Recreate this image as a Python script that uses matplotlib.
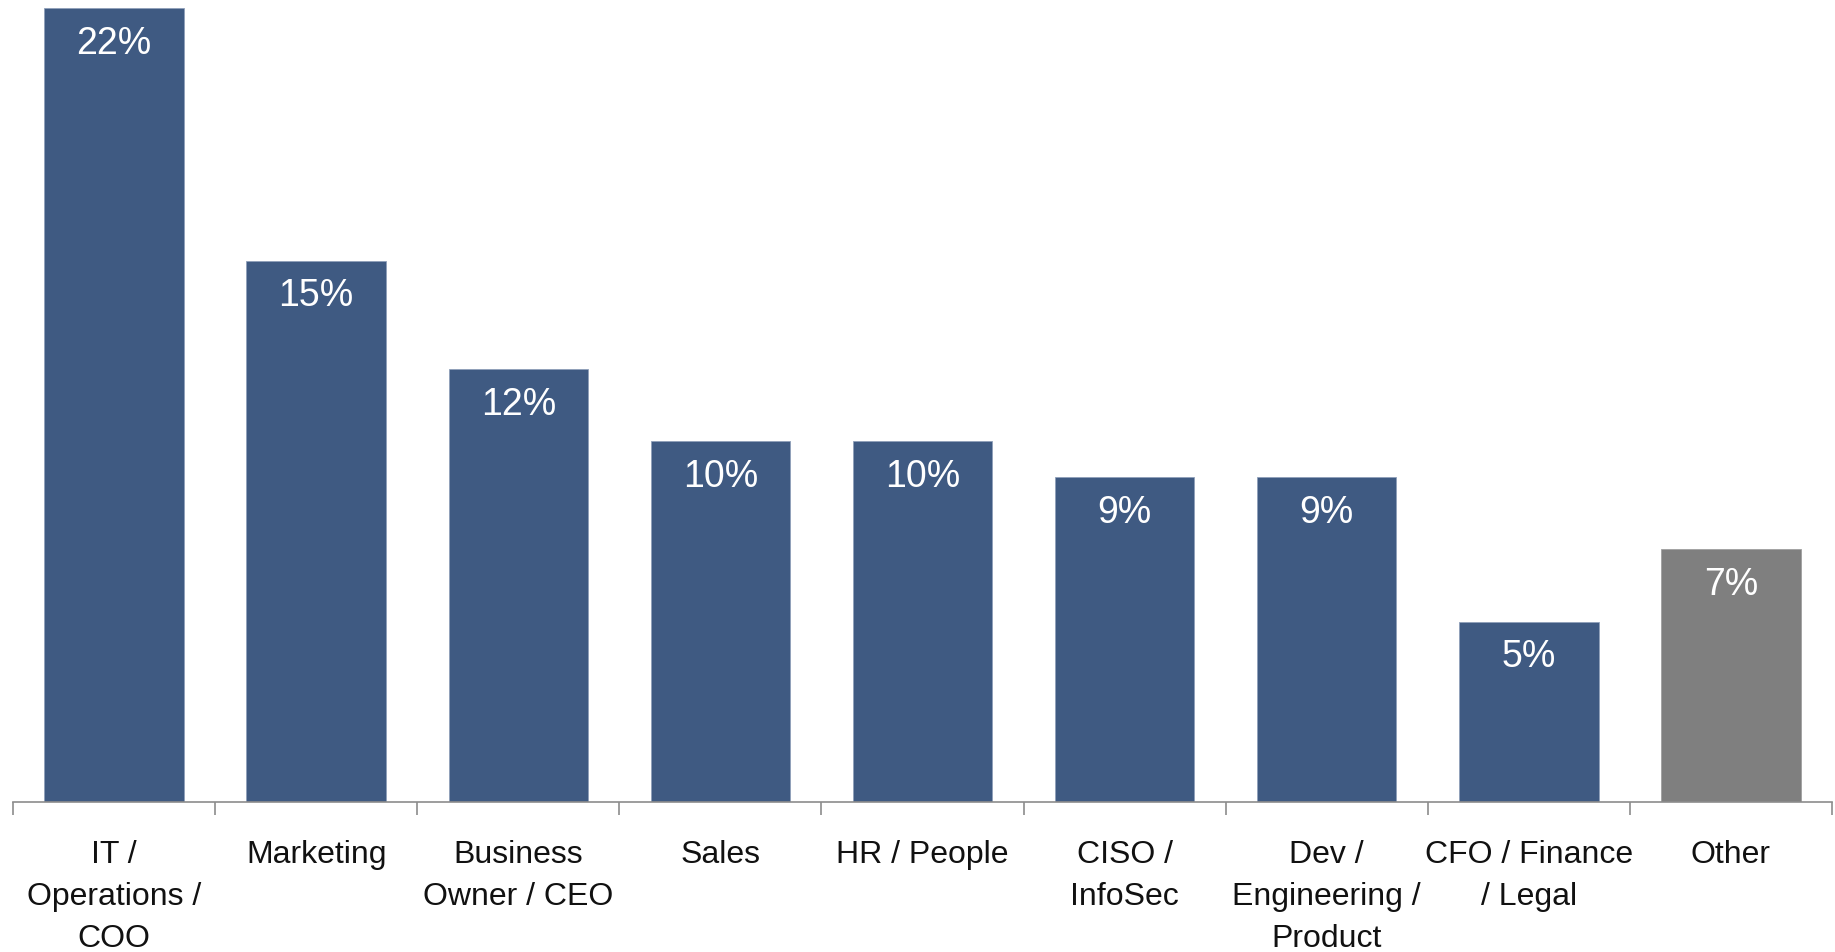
import numpy as np
import matplotlib
matplotlib.use("Agg")
import matplotlib.pyplot as plt

plt.rcParams["font.family"] = ["Liberation Sans", "DejaVu Sans"]

# share of respondents by role
roles = ["IT /\nOperations /\nCOO", "Marketing", "Business\nOwner / CEO", "Sales",
         "HR / People", "CISO /\nInfoSec", "Dev /\nEngineering /\nProduct",
         "CFO / Finance\n/ Legal", "Other"]
shares = [22, 15, 12, 10, 10, 9, 9, 5, 7]
bar_colors = ["#3F5A82"] * 8 + ["#7F7F7F"]

fig = plt.figure(figsize=(18.35, 9.53), dpi=100)
ax = fig.add_axes([13 / 1835, 150 / 953, 1819 / 1835, 794 / 953])

x = np.arange(len(roles))
bars = ax.bar(x, shares, width=0.69, color=bar_colors, edgecolor="#8FA0BA", linewidth=0.6)
bars[-1].set_edgecolor("#A0A0A0")

for xi, v in zip(x, shares):
    ax.annotate(f"{v}%", (xi, v), xytext=(0, -12), textcoords="offset points",
                ha="center", va="top", color="white", fontsize=27)

ax.set_xlim(-0.5, len(roles) - 0.5)
ax.set_ylim(0, 22)
ax.set_yticks([])
for s in ["top", "right", "left"]:
    ax.spines[s].set_visible(False)
ax.spines["bottom"].set_color("#8C8C8C")
ax.spines["bottom"].set_linewidth(1.2)

ax.set_xticks(x)
ax.set_xticklabels(roles, fontsize=23, color="#111111", linespacing=1.53, va="top")
ax.tick_params(axis="x", which="major", length=0, pad=26.5)
ax.set_xticks(np.arange(len(roles) + 1) - 0.5, minor=True)
ax.tick_params(axis="x", which="minor", length=9, width=1.2, color="#8C8C8C")

fig.savefig("out.png", dpi=100)
